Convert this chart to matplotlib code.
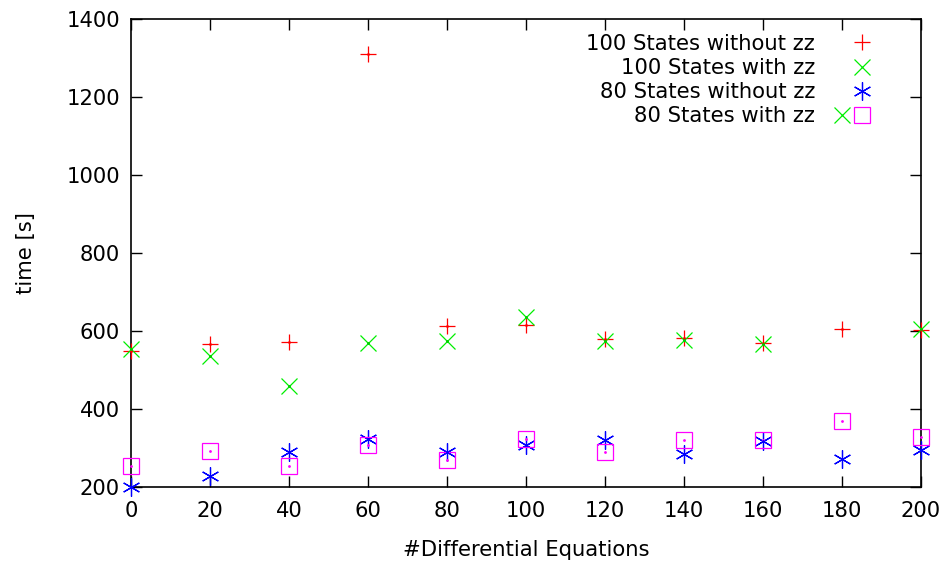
import numpy as np
import matplotlib.pyplot as plt
from matplotlib.lines import Line2D
from matplotlib.legend_handler import HandlerTuple

# number of differential equations
n_eq = [0, 20, 40, 60, 80, 100, 120, 140, 160, 180, 200]

# run times [s]
t100_without = [549, 567, 573, 1310, 613, 615, 579, 581, 570, 604, 602]
t100_with = [553, 537, 460, 568, 574, 636, 575, 577, 567, np.nan, 605]
t80_without = [199, 228, 290, 323, 289, 308, 320, 285, 319, 272, 295]
t80_with = [255, 293, 255, 309, 269, 323, 290, 320, 320, 369, 327]

fs = 15.2
plt.rcParams['font.family'] = 'DejaVu Sans'

fig = plt.figure(figsize=(9.48, 5.65), dpi=100)
ax = fig.add_axes([0.1382, 0.138, 0.8333, 0.8284])

ms = 12
lw = 0.9
kw = dict(ls='none', clip_on=False, zorder=3)
red = ax.plot(n_eq, t100_without, '+', color='#ff0000', ms=ms, mew=lw, **kw)[0]
green = ax.plot(n_eq, t100_with, 'x', color='#00ee00', ms=ms, mew=lw, **kw)[0]
blue = ax.plot(n_eq, t80_without, color='#0000ff', marker=(6, 2, 0), ms=ms + 1, mew=lw, **kw)[0]
mag = ax.plot(n_eq, t80_with, 's', color='#ff00ff', mfc='none', ms=11, mew=lw, **kw)[0]
# gnuplot draws a small dot in the centre of the points
ax.plot(n_eq, t80_with, '.', color='#ff00ff', ms=2, **kw)
ax.plot(n_eq, t100_without, '.', color='#ff0000', ms=2, **kw)
ax.plot(n_eq, t100_with, '.', color='#00cc00', ms=2, **kw)
ax.plot(n_eq, t80_without, '.', color='#0000ff', ms=2, **kw)

ax.set_xlim(0, 200)
ax.set_ylim(200, 1400)
ax.set_xticks(range(0, 201, 20))
ax.set_yticks(range(200, 1401, 200))
ax.tick_params(direction='in', length=8, width=1, labelsize=fs, top=True, right=True)
ax.tick_params(axis='x', pad=10)
ax.tick_params(axis='y', pad=8)
for s in ax.spines.values():
    s.set_linewidth(1.2)

ax.set_xlabel('#Differential Equations', fontsize=fs, labelpad=14)
ax.set_ylabel('time [s]', fontsize=fs, labelpad=22)

blank = Line2D([], [], ls='none')
handles = [(blank, red), (blank, green), (blank, blue), (green, mag)]
labels = ['100 States without zz', '100 States with zz',
          '80 States without zz', '80 States with zz']
ax.legend(handles, labels, handler_map={tuple: HandlerTuple(ndivide=None, pad=0)},
          loc='upper right', bbox_to_anchor=(0.957, 1.0), frameon=False, markerfirst=False,
          fontsize=fs, handlelength=1.9, handletextpad=0.8, labelspacing=0.2,
          borderaxespad=0.3)

fig.savefig('out.png', dpi=100)
